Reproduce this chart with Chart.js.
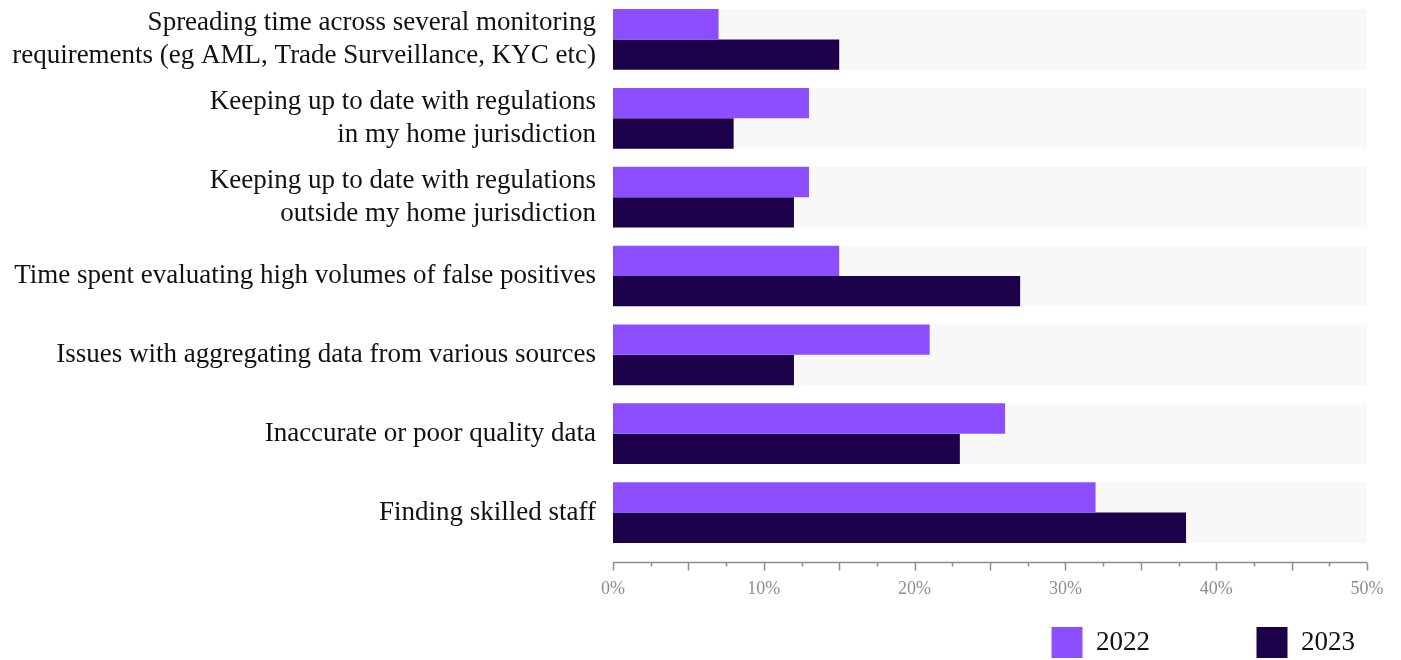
<!DOCTYPE html>
<html>
<head>
<meta charset="utf-8">
<script src="https://cdn.jsdelivr.net/npm/chart.js@4/dist/chart.umd.min.js"></script>
<style>
  html, body { margin: 0; padding: 0; background: #fff; }
  #wrap { width: 1401px; height: 660px; }
</style>
</head>
<body>
<div id="wrap"><canvas id="chart"></canvas></div>
<script>
var categories = [
  ['Spreading time across several monitoring', 'requirements (eg AML, Trade Surveillance, KYC etc)'],
  ['Keeping up to date with regulations', 'in my home jurisdiction'],
  ['Keeping up to date with regulations', 'outside my home jurisdiction'],
  'Time spent evaluating high volumes of false positives',
  'Issues with aggregating data from various sources',
  'Inaccurate or poor quality data',
  'Finding skilled staff'
];
var values2022 = [7, 13, 13, 15, 21, 26, 32];
var values2023 = [15, 8, 12, 27, 12, 23, 38];
var fullScale = [50, 50, 50, 50, 50, 50, 50];
var xMax = 50;
var xMajorStep = 10;
var xMinorStep = 2.5;

var axisGray = '#8b8b9b';
var serif = "'Liberation Serif', 'DejaVu Serif', serif";

// axis line sits a little below the last band, so draw it here
var axisLine = {
  id: 'axisLine',
  afterDraw: function(chart) {
    var ctx = chart.ctx;
    var xs = chart.scales.x;
    var y = chart.chartArea.bottom + 10.5;
    ctx.save();
    ctx.strokeStyle = axisGray;
    ctx.lineWidth = 1.5;
    ctx.beginPath();
    ctx.moveTo(xs.getPixelForValue(0), y);
    ctx.lineTo(xs.getPixelForValue(xMax), y);
    for (var v = 0; v <= xMax; v += xMinorStep) {
      var px = Math.round(xs.getPixelForValue(v)) + 0.5;
      var len = (v % 5 === 0) ? 8 : 4;
      ctx.moveTo(px, y);
      ctx.lineTo(px, y + len);
    }
    ctx.stroke();
    ctx.restore();
  }
};

var ctx = document.getElementById('chart');
var chart = new Chart(ctx, {
  type: 'bar',
  data: {
    labels: categories,
    datasets: [
      { label: '2022', data: values2022, backgroundColor: '#8c4fff', order: 0 },
      { label: '2023', data: values2023, backgroundColor: '#1c0049', order: 0 },
      { label: 'bg', data: fullScale, backgroundColor: '#f8f8f8', grouped: false, order: 1 }
    ]
  },
  plugins: [axisLine],
  options: {
    indexAxis: 'y',
    responsive: true,
    maintainAspectRatio: false,
    animation: false,
    categoryPercentage: 0.77,
    barPercentage: 1,
    layout: { padding: { top: -3, right: 34, bottom: -8, left: 0 } },
    scales: {
      x: {
        min: 0,
        max: xMax,
        grid: { display: false, drawTicks: false },
        border: { display: false },
        ticks: {
          stepSize: xMajorStep,
          padding: 26,
          color: axisGray,
          font: { family: serif, size: 18 },
          callback: function(v) { return v + '%'; }
        },
        afterFit: function(scale) {
          scale.height = 63;
          scale.paddingLeft = 0;
          scale.paddingRight = 0;
        }
      },
      y: {
        grid: { display: false, drawTicks: false },
        border: { display: false },
        ticks: {
          padding: 17,
          color: '#111111',
          font: { family: serif, size: 27, lineHeight: 1.22 }
        },
        afterFit: function(scale) {
          scale.width = 613;
          scale.paddingTop = 0;
          scale.paddingBottom = 0;
        }
      }
    },
    plugins: {
      tooltip: { enabled: false },
      legend: {
        position: 'bottom',
        align: 'end',
        labels: {
          boxWidth: 31,
          boxHeight: 31,
          padding: 12,
          color: '#111111',
          font: { family: serif, size: 27 },
          filter: function(item) { return item.datasetIndex < 2; },
          generateLabels: function(chart) {
            var items = Chart.defaults.plugins.legend.labels.generateLabels(chart);
            // widen the gap between the two legend entries
            if (items[0]) items[0].text = items[0].text + '              ';
            items.forEach(function(it) { it.lineWidth = 0; });
            return items;
          }
        }
      }
    }
  }
});
</script>
</body>
</html>
